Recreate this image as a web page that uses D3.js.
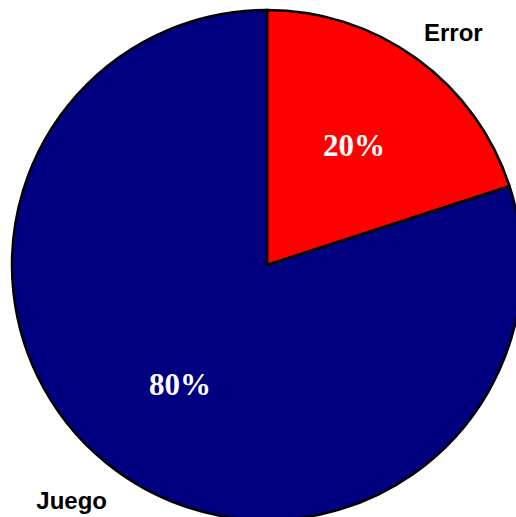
<!DOCTYPE html>
<html>
<head>
<meta charset="utf-8">
<script src="https://cdn.jsdelivr.net/npm/d3@7/dist/d3.min.js"></script>
<style>
  html, body { margin: 0; padding: 0; background: #fff; }
  svg { display: block; }
</style>
</head>
<body>
<svg id="chart" width="516" height="517"></svg>
<script>
// Share of outcomes
const categories = ["Error", "Juego"];
const values = [20, 80];
const colors = ["#ff0000", "#000080"];

const width = 516, height = 517;
const cx = 267, cy = 265, radius = 255;

const svg = d3.select("#chart");
const g = svg.append("g").attr("transform", `translate(${cx},${cy})`);

const data = categories.map((c, i) => ({ name: c, value: values[i], color: colors[i] }));
const total = d3.sum(values);

const pie = d3.pie().sort(null).value(d => d.value).startAngle(0).endAngle(2 * Math.PI);
const arcs = pie(data);

const arc = d3.arc().innerRadius(0).outerRadius(radius);
const valueArc = d3.arc().innerRadius(148).outerRadius(148);
const nameArc = d3.arc().innerRadius(300).outerRadius(300);

g.selectAll("path.slice")
  .data(arcs)
  .enter().append("path")
  .attr("class", "slice")
  .attr("d", arc)
  .attr("fill", d => d.data.color)
  .attr("stroke", "#000")
  .attr("stroke-width", 2.5)
  .attr("stroke-linejoin", "miter");

// percentage labels inside the slices
g.selectAll("text.pct")
  .data(arcs)
  .enter().append("text")
  .attr("class", "pct")
  .attr("x", d => valueArc.centroid(d)[0])
  .attr("y", d => valueArc.centroid(d)[1])
  .attr("dy", "0.34em")
  .attr("text-anchor", "middle")
  .attr("fill", "#fff")
  .style("font-family", "'Liberation Serif', 'Times New Roman', serif")
  .style("font-weight", "bold")
  .style("font-size", "31px")
  .text(d => Math.round(d.data.value / total * 100) + "%");

// category labels outside the pie
const nameOffset = { Error: [10, 10], Juego: [-19, -7] };
g.selectAll("text.name")
  .data(arcs)
  .enter().append("text")
  .attr("class", "name")
  .attr("x", d => nameArc.centroid(d)[0] + nameOffset[d.data.name][0])
  .attr("y", d => nameArc.centroid(d)[1] + nameOffset[d.data.name][1])
  .attr("dy", "0.36em")
  .attr("text-anchor", "middle")
  .attr("fill", "#000")
  .style("font-family", "'Liberation Sans', Arial, sans-serif")
  .style("font-weight", "bold")
  .style("font-size", "24px")
  .text(d => d.data.name);
</script>
</body>
</html>
